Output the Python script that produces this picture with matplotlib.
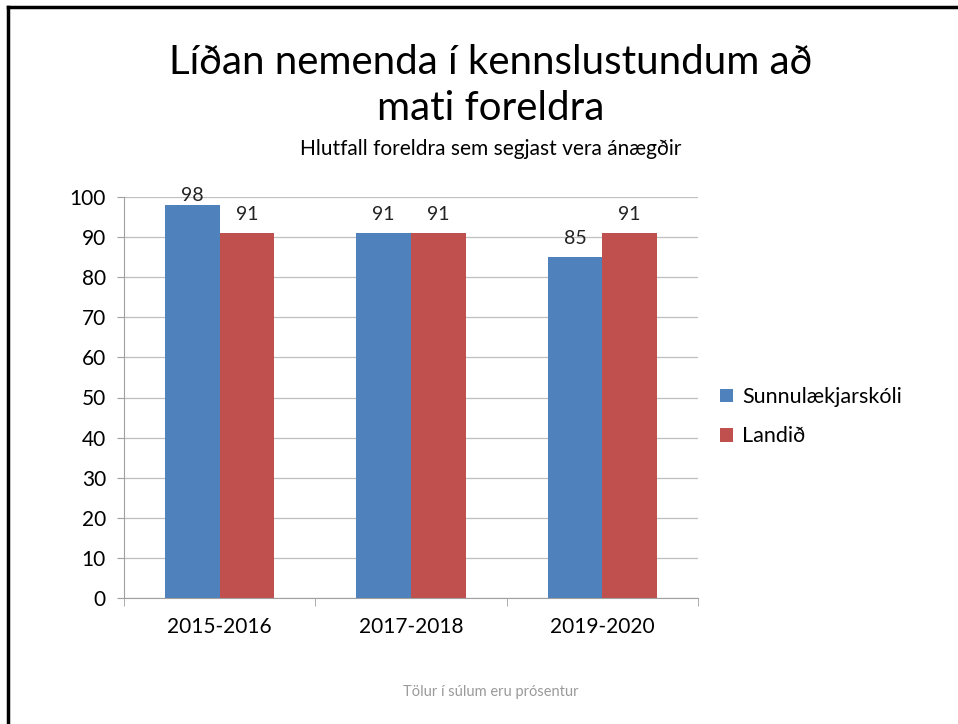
import matplotlib.pyplot as plt
import numpy as np

plt.rcParams['font.family'] = ['Lato', 'DejaVu Sans']

years = ['2015-2016', '2017-2018', '2019-2020']
skoli = [98, 91, 85]
landid = [91, 91, 91]
series_names = ['Sunnulækjarskóli', 'Landið']
colors = ['#4F81BD', '#C0504D']

fig = plt.figure(figsize=(9.58, 7.24), dpi=100)
ax = fig.add_axes([124 / 958, 1 - 598 / 724, 574 / 958, 401 / 724])

x = np.arange(len(years))
w = 1 / 3.5
b1 = ax.bar(x - w / 2, skoli, w, color=colors[0], label=series_names[0])
b2 = ax.bar(x + w / 2, landid, w, color=colors[1], label=series_names[1])

# gildi ofan á súlum; 98 er þrýst niður svo það haldist innan grafsins
for bars in [b1, b2]:
    for rect in bars:
        h = rect.get_height()
        pad = 1 if h > 95 else 7
        ax.annotate(f'{h:.0f}', (rect.get_x() + rect.get_width() / 2, h),
                    xytext=(0, pad), textcoords='offset points', ha='center',
                    va='bottom', fontsize=14, color='#222222')

ax.set_xlim(-0.5, 2.5)
ax.set_ylim(0, 100)
ax.set_yticks(range(0, 101, 10))
ax.yaxis.grid(True, color='#BFBFBF', linewidth=0.9)
ax.set_axisbelow(True)
for s in ['top', 'right']:
    ax.spines[s].set_visible(False)
for s in ['left', 'bottom']:
    ax.spines[s].set_color('#A0A0A0')
ax.set_xticks(x)
ax.set_xticklabels(years)
ax.set_xticks([-0.5, 0.5, 1.5, 2.5], minor=True)
ax.tick_params(axis='x', which='major', length=0, pad=14, labelsize=15)
ax.tick_params(axis='x', which='minor', length=6, color='#A0A0A0')
ax.tick_params(axis='y', length=5, color='#A0A0A0', labelsize=15, pad=8)

ax.legend(loc='center left', bbox_to_anchor=(1.004, 0.452), frameon=False,
          fontsize=15.5, handlelength=0.6, handleheight=0.6, labelspacing=0.9,
          handletextpad=0.45)

fig.text(0.512, 1 - 62 / 724, 'Líðan nemenda í kennslustundum að', ha='center',
         va='center', fontsize=29)
fig.text(0.512, 1 - 108 / 724, 'mati foreldra', ha='center', va='center',
         fontsize=29)
fig.text(0.512, 1 - 149 / 724, 'Hlutfall foreldra sem segjast vera ánægðir',
         ha='center', va='center', fontsize=15)
fig.text(0.512, 1 - 692 / 724, 'Tölur í súlum eru prósentur', ha='center',
         va='center', fontsize=10.5, color='#9A9A9A')

# rammi efst og vinstra megin
fig.add_artist(plt.Line2D([8 / 958, 8 / 958], [0, 1 - 7 / 724], color='black', linewidth=2.5))
fig.add_artist(plt.Line2D([8 / 958, 1], [1 - 7 / 724, 1 - 7 / 724], color='black', linewidth=2.5))

fig.savefig('out.png', dpi=100)
